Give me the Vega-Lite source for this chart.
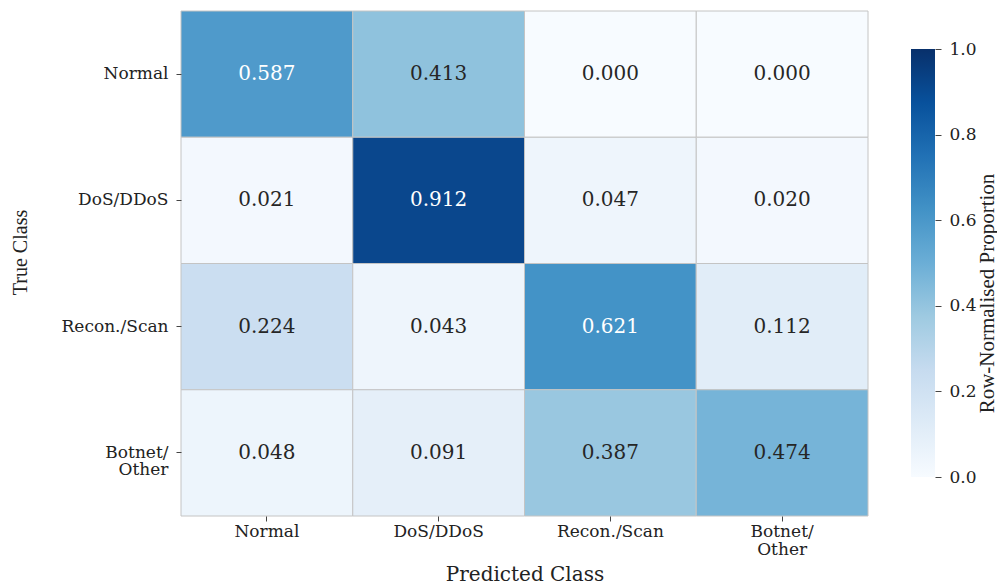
{
  "$schema": "https://vega.github.io/schema/vega-lite/v6.json",
  "autosize": "pad",
  "padding": {"left": 10, "top": 10, "right": 0, "bottom": 0},
  "background": "white",
  "spacing": 42,
  "config": {
    "view": {"stroke": null},
    "font": "DejaVu Serif"
  },
  "datasets": {
    "cm": [
      {"true": "Normal", "pred": "Normal", "v": 0.587},
      {"true": "Normal", "pred": "DoS/DDoS", "v": 0.413},
      {"true": "Normal", "pred": "Recon./Scan", "v": 0.000},
      {"true": "Normal", "pred": "Botnet/ Other", "v": 0.000},
      {"true": "DoS/DDoS", "pred": "Normal", "v": 0.021},
      {"true": "DoS/DDoS", "pred": "DoS/DDoS", "v": 0.912},
      {"true": "DoS/DDoS", "pred": "Recon./Scan", "v": 0.047},
      {"true": "DoS/DDoS", "pred": "Botnet/ Other", "v": 0.020},
      {"true": "Recon./Scan", "pred": "Normal", "v": 0.224},
      {"true": "Recon./Scan", "pred": "DoS/DDoS", "v": 0.043},
      {"true": "Recon./Scan", "pred": "Recon./Scan", "v": 0.621},
      {"true": "Recon./Scan", "pred": "Botnet/ Other", "v": 0.112},
      {"true": "Botnet/ Other", "pred": "Normal", "v": 0.048},
      {"true": "Botnet/ Other", "pred": "DoS/DDoS", "v": 0.091},
      {"true": "Botnet/ Other", "pred": "Recon./Scan", "v": 0.387},
      {"true": "Botnet/ Other", "pred": "Botnet/ Other", "v": 0.474}
    ],
    "bar": [{"lo": 0, "hi": 1}]
  },
  "hconcat": [
    {
      "width": 687,
      "height": 505,
      "data": {"name": "cm"},
      "encoding": {
        "x": {
          "field": "pred", "type": "nominal",
          "sort": ["Normal", "DoS/DDoS", "Recon./Scan", "Botnet/ Other"],
          "scale": {"paddingInner": 0, "paddingOuter": 0},
          "axis": {
            "title": "Predicted Class",
            "titleFont": "DejaVu Serif", "titleFontSize": 20, "titleFontWeight": "normal", "titleColor": "#222",
            "titlePadding": 7,
            "labelAngle": 0, "labelFont": "DejaVu Serif", "labelFontSize": 17, "labelColor": "#222",
            "labelExpr": "datum.label == 'Botnet/ Other' ? ['Botnet/', 'Other'] : datum.label",
            "labelLineHeight": 18,
            "tickSize": 5, "tickColor": "#444", "labelPadding": 2, "domain": false
          }
        },
        "y": {
          "field": "true", "type": "nominal",
          "sort": ["Normal", "DoS/DDoS", "Recon./Scan", "Botnet/ Other"],
          "scale": {"paddingInner": 0, "paddingOuter": 0},
          "axis": {
            "title": "True Class",
            "titleFont": "Liberation Serif", "titleFontSize": 20, "titleFontWeight": "normal", "titleColor": "#222",
            "titlePadding": 31,
            "titleY": 241,
            "labelFont": "DejaVu Serif", "labelFontSize": 17, "labelColor": "#222",
            "labelExpr": "datum.label == 'Botnet/ Other' ? ['Botnet/', 'Other'] : datum.label",
            "labelLineHeight": 17,
            "tickSize": 5, "tickColor": "#444", "labelPadding": 8, "domain": false
          }
        }
      },
      "layer": [
        {
          "mark": {"type": "rect", "stroke": "#c4c4c4", "strokeWidth": 1},
          "encoding": {
            "color": {
              "field": "v", "type": "quantitative",
              "scale": {
                "domain": [0, 0.125, 0.25, 0.375, 0.5, 0.625, 0.75, 0.875, 1],
                "range": ["#f7fbff", "#deebf7", "#c6dbef", "#9ecae1", "#6baed6", "#4292c6", "#2171b5", "#08519c", "#08306b"]
              },
              "legend": null
            }
          }
        },
        {
          "mark": {"type": "text", "font": "DejaVu Serif", "fontSize": 20},
          "encoding": {
            "text": {"field": "v", "type": "quantitative", "format": ".3f"},
            "color": {
              "condition": {"test": "datum.v > 0.5", "value": "white"},
              "value": "#262626"
            }
          }
        }
      ]
    },
    {
      "width": 24,
      "height": 505,
      "data": {"name": "bar"},
      "mark": {
        "type": "rect",
        "fill": {
          "gradient": "linear", "x1": 0, "y1": 1, "x2": 0, "y2": 0,
          "stops": [
            {"offset": 0, "color": "#f7fbff"},
            {"offset": 0.125, "color": "#deebf7"},
            {"offset": 0.25, "color": "#c6dbef"},
            {"offset": 0.375, "color": "#9ecae1"},
            {"offset": 0.5, "color": "#6baed6"},
            {"offset": 0.625, "color": "#4292c6"},
            {"offset": 0.75, "color": "#2171b5"},
            {"offset": 0.875, "color": "#08519c"},
            {"offset": 1, "color": "#08306b"}
          ]
        }
      },
      "encoding": {
        "y": {
          "field": "lo", "type": "quantitative",
          "scale": {"domain": [-0.0911, 1.0888], "nice": false, "zero": false},
          "axis": {
            "orient": "right",
            "values": [0, 0.2, 0.4, 0.6, 0.8, 1.0],
            "format": ".1f",
            "grid": false, "domain": false,
            "tickSize": 6, "tickColor": "#444",
            "labelFont": "DejaVu Serif", "labelFontSize": 17, "labelColor": "#222",
            "labelPadding": 8,
            "title": "Row-Normalised Proportion",
            "titleAngle": 270,
            "titleX": 58,
            "titleY": 282,
            "titleAlign": "center",
            "titleBaseline": "alphabetic",
            "titleFont": "Liberation Serif", "titleFontSize": 21, "titleFontWeight": "normal", "titleColor": "#222"
          }
        },
        "y2": {"field": "hi"}
      }
    }
  ]
}
